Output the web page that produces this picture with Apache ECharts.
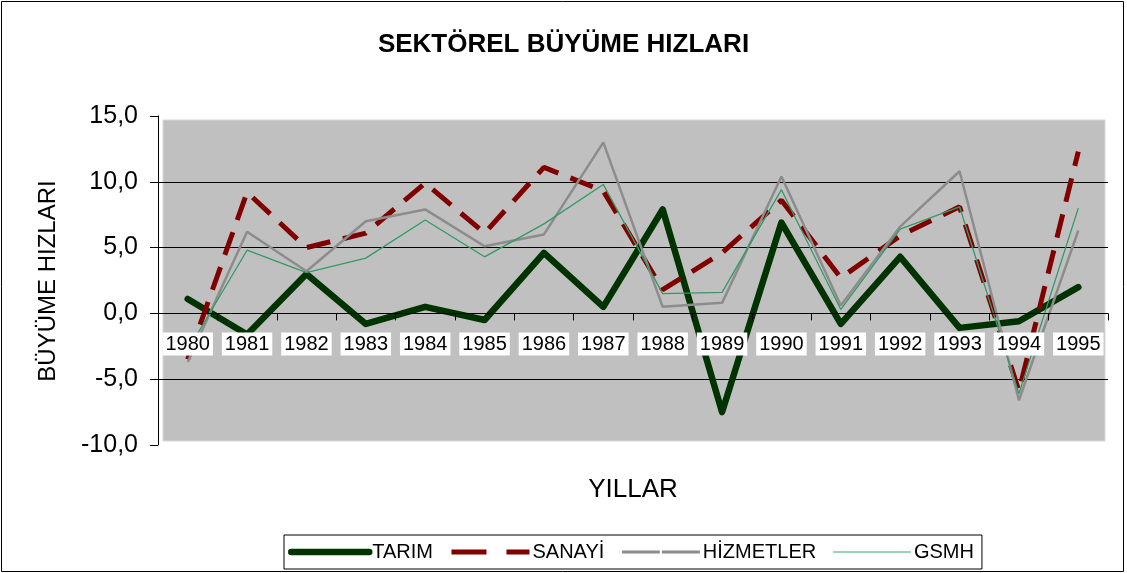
<!DOCTYPE html>
<html>
<head>
<meta charset="utf-8">
<script src="https://cdn.jsdelivr.net/npm/echarts@6/dist/echarts.min.js"></script>
<style>
html,body{margin:0;padding:0;background:#fff;}
#chart{width:1127px;height:573px;}
</style>
</head>
<body>
<div id="chart"></div>
<script>
const years = ['1980','1981','1982','1983','1984','1985','1986','1987','1988','1989','1990','1991','1992','1993','1994','1995'];
const tarim = [1.1, -1.6, 3.0, -0.8, 0.5, -0.5, 4.6, 0.5, 7.9, -7.5, 6.9, -0.8, 4.3, -1.1, -0.6, 2.0];
const sanayi = [-3.5, 9.2, 5.0, 6.1, 9.9, 6.1, 11.1, 9.3, 1.8, 4.6, 8.6, 2.7, 5.9, 8.1, -5.9, 12.3];
const hizmetler = [-3.7, 6.2, 3.2, 7.0, 7.9, 5.1, 6.0, 13.0, 0.5, 0.8, 10.4, 0.6, 6.6, 10.8, -6.6, 6.3];
const gsmh = [-2.8, 4.8, 3.1, 4.2, 7.1, 4.3, 6.8, 9.8, 1.5, 1.6, 9.4, 0.3, 6.4, 8.1, -6.1, 8.0];
const seriesNames = ['TARIM', 'SANAYİ', 'HİZMETLER', 'GSMH'];

const FONT = 'Liberation Sans, Arial, sans-serif';
const Y_MIN = -10, Y_MAX = 15;
const GRID_TOP = 116, GRID_H = 329;
// move the category axis up to the zero line
const zeroOffset = -GRID_H * (0 - Y_MIN) / (Y_MAX - Y_MIN);

const chart = echarts.init(document.getElementById('chart'), null, {renderer: 'canvas'});
chart.setOption({
  animation: false,
  backgroundColor: '#fff',
  textStyle: {fontFamily: FONT, color: '#000'},
  title: {
    text: 'SEKTÖREL BÜYÜME HIZLARI',
    left: 'center',
    top: 27,
    textStyle: {fontFamily: FONT, fontSize: 26, fontWeight: 'bold', color: '#000'}
  },
  graphic: [
    {type: 'rect', z: -10, shape: {x: 1.5, y: 1.5, width: 1122, height: 570}, style: {fill: 'none', stroke: '#000', lineWidth: 1}},
    {type: 'rect', z: -10, shape: {x: 163, y: 120, width: 942, height: 321}, style: {fill: '#C0C0C0', stroke: '#d8d8d8', lineWidth: 1}},
    {type: 'text', x: 633, y: 490, style: {text: 'YILLAR', fontFamily: FONT, fontSize: 26, fill: '#000', align: 'center', verticalAlign: 'middle'}},
    {type: 'text', x: 48, y: 281, rotation: Math.PI / 2, style: {text: 'BÜYÜME HIZLARI', fontFamily: FONT, fontSize: 24, fill: '#000', align: 'center', verticalAlign: 'middle'}}
  ],
  legend: {
    left: 284,
    top: 535,
    itemWidth: 78,
    itemHeight: 14,
    itemGap: 16,
    padding: [7, 8, 7, 4],
    borderColor: '#000',
    borderWidth: 1,
    backgroundColor: '#fff',
    itemStyle: {opacity: 0},
    textStyle: {fontFamily: FONT, fontSize: 20, color: '#000', padding: [0, 0, 0, -2]},
    data: [
      {name: seriesNames[0], lineStyle: {width: 6.5, cap: 'round'}},
      {name: seriesNames[1], lineStyle: {width: 5, type: [35, 20]}},
      {name: seriesNames[2], lineStyle: {width: 3, type: [38, 2]}},
      {name: seriesNames[3], lineStyle: {width: 1.5, color: '#7cc4a0'}}
    ]
  },
  grid: {left: 158, right: 19, top: GRID_TOP, height: GRID_H, containLabel: false},
  xAxis: {
    type: 'category',
    data: years,
    boundaryGap: true,
    position: 'bottom',
    offset: zeroOffset,
    z: 10,
    axisLine: {show: true, onZero: false, lineStyle: {color: '#000', width: 1}},
    axisTick: {show: true, length: 7, lineStyle: {color: '#000'}},
    axisLabel: {
      fontFamily: FONT, fontSize: 20, color: '#000', margin: 19,
      backgroundColor: '#fff', padding: [2, 3, 1, 3], interval: 0
    },
    splitLine: {show: false}
  },
  yAxis: {
    type: 'value',
    min: Y_MIN,
    max: Y_MAX,
    interval: 5,
    axisLine: {show: true, lineStyle: {color: '#000', width: 1}},
    axisTick: {show: true, length: 8, lineStyle: {color: '#000'}},
    axisLabel: {
      fontFamily: FONT, fontSize: 25, color: '#000', margin: 20,
      formatter: v => v.toFixed(1).replace('.', ',')
    },
    splitLine: {show: true, lineStyle: {color: ['rgba(0,0,0,0)', '#000', '#000', '#000', '#000', 'rgba(0,0,0,0)'], width: 1}}
  },
  series: [
    {name: seriesNames[0], type: 'line', data: tarim, symbol: 'none', z: 2,
     lineStyle: {color: '#003300', width: 6.5, cap: 'round', join: 'round'}, itemStyle: {color: '#003300'}},
    {name: seriesNames[1], type: 'line', data: sanayi, symbol: 'none', z: 3,
     lineStyle: {color: '#800000', width: 5, type: [24, 13], cap: 'butt'}, itemStyle: {color: '#800000'}},
    {name: seriesNames[2], type: 'line', data: hizmetler, symbol: 'none', z: 4,
     lineStyle: {color: '#8c8c8c', width: 2.5}, itemStyle: {color: '#8c8c8c'}},
    {name: seriesNames[3], type: 'line', data: gsmh, symbol: 'none', z: 5,
     lineStyle: {color: '#339966', width: 1.3}, itemStyle: {color: '#339966'}}
  ]
});
</script>
</body>
</html>
